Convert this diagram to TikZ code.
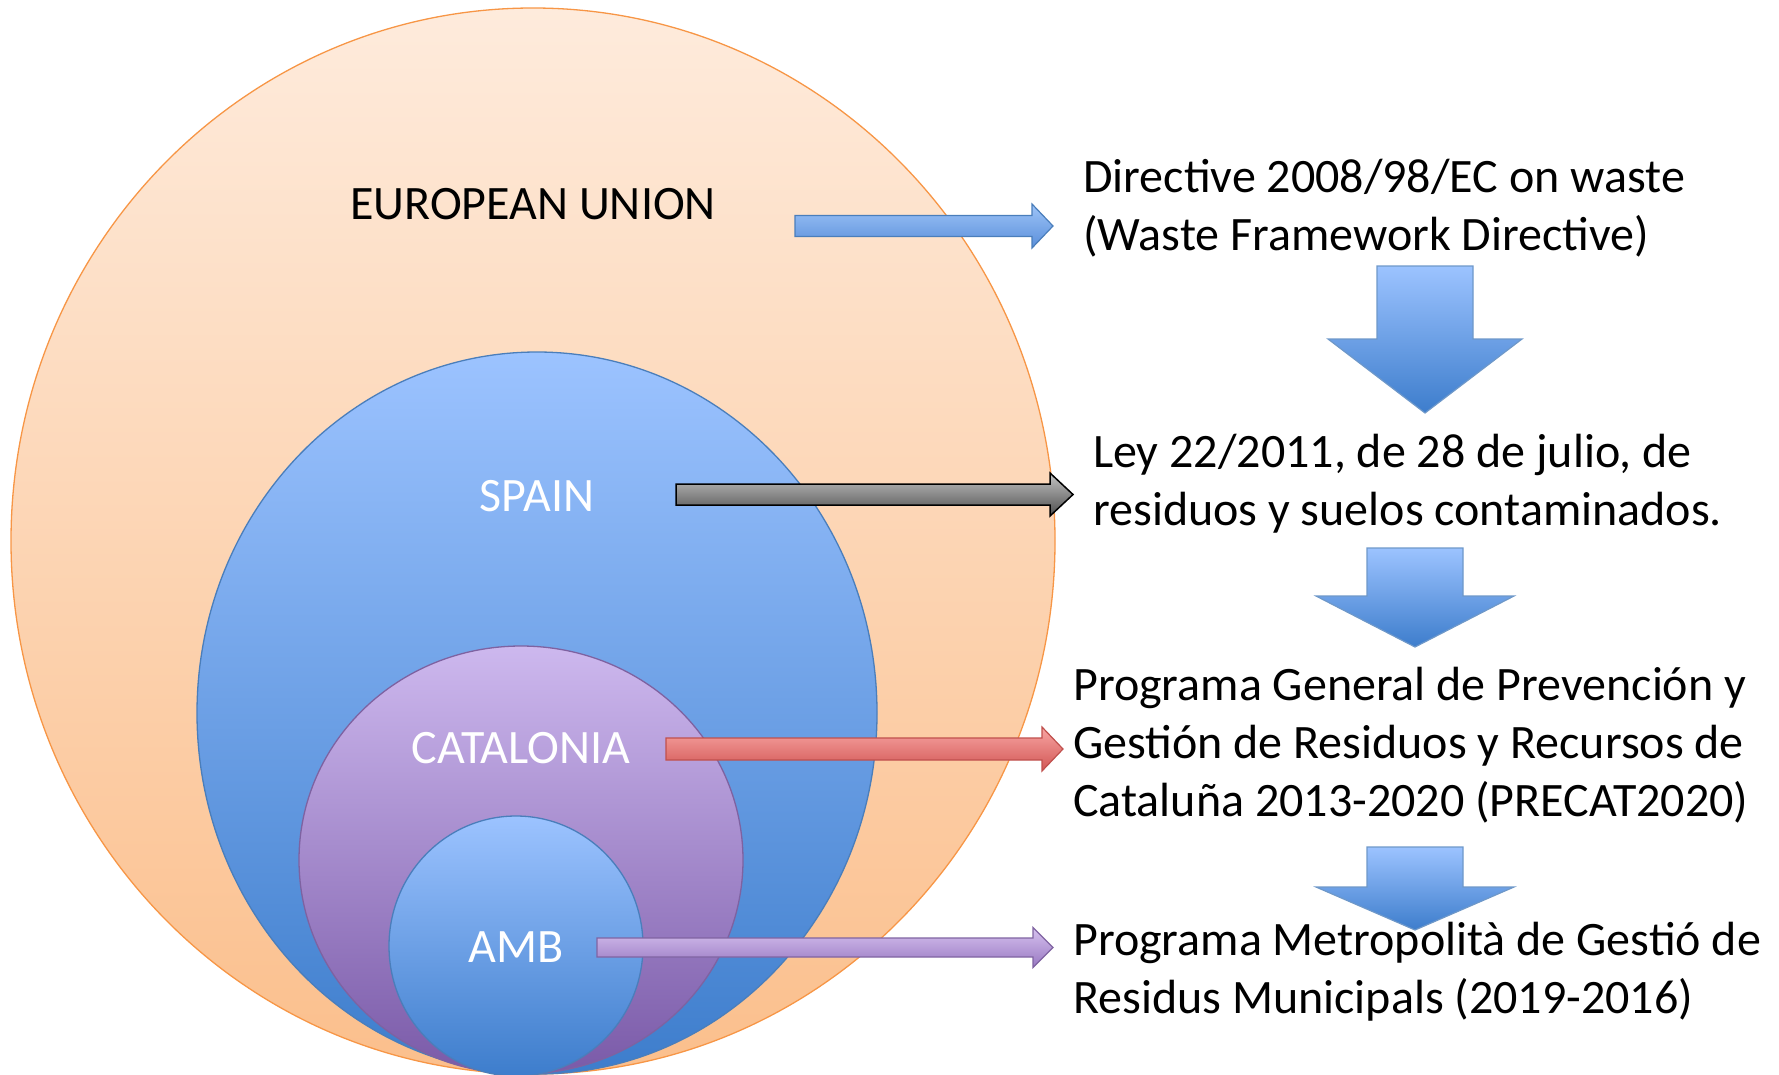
\documentclass[tikz,border=0pt]{standalone}
\usepackage{fontspec}
\setmainfont{Carlito}
\usetikzlibrary{shapes.geometric}
\definecolor{euTop}{HTML}{FEEBDC}
\definecolor{euBot}{HTML}{FBBF8C}
\definecolor{euLine}{HTML}{F79646}
\definecolor{bluTop}{HTML}{9CC3FF}
\definecolor{bluBot}{HTML}{3D7DCC}
\definecolor{bluLine}{HTML}{4A7EBB}
\definecolor{vioTop}{HTML}{CDB8EE}
\definecolor{vioBot}{HTML}{7A5AA8}
\definecolor{vioLine}{HTML}{7E62A1}
\definecolor{arBluTop}{HTML}{9EC4F8}
\definecolor{arBluBot}{HTML}{5A8FDA}
\definecolor{grTop}{HTML}{C4C4C4}
\definecolor{grBot}{HTML}{4E4E4E}
\definecolor{rdTop}{HTML}{F8A6A4}
\definecolor{rdBot}{HTML}{D25654}
\definecolor{rdLine}{HTML}{C0504D}
\definecolor{plTop}{HTML}{D7C2EF}
\definecolor{plMid}{HTML}{F5EEFC}
\definecolor{plBot}{HTML}{9878C2}
\definecolor{plLine}{HTML}{8064A2}
\newcommand{\harrowpath}[6]{% style, from coord, x end, shaft half, head half, head length
  \path[#1] let \p1=(#2) in
    (\x1,\y1+#4) -- (#3-#6,\y1+#4) -- (#3-#6,\y1+#5) -- (#3,\y1)
    -- (#3-#6,\y1-#5) -- (#3-#6,\y1-#4) -- (\x1,\y1-#4) -- cycle;}
\newcommand{\varrowpath}[7]{% style, center x, top y, shaft half, head top y, head half, tip y
  \path[#1] (#2-#4,#3) -- (#2+#4,#3) -- (#2+#4,#5) -- (#2+#6,#5) -- (#2,#7)
    -- (#2-#6,#5) -- (#2-#4,#5) -- cycle;}
\usetikzlibrary{calc}
\begin{document}
\begin{tikzpicture}[x=1pt,y=-1pt,
  ring/.style={ellipse, inner sep=0pt, line width=1.3pt},
  eustyle/.style={ring, draw=euLine, top color=euTop, bottom color=euBot},
  bluestyle/.style={ring, draw=bluLine, top color=bluTop, bottom color=bluBot},
  viostyle/.style={ring, draw=vioLine, top color=vioTop, bottom color=vioBot},
  lab/.style={font=\fontsize{48}{56}\selectfont, inner sep=0pt},
  rtext/.style={font=\fontsize{48}{58}\selectfont, align=left, inner sep=0pt, anchor=west},
  barBlue/.style={draw=bluLine, line width=1.2pt, top color=arBluTop, bottom color=arBluBot},
  barGray/.style={draw=black, line width=1.5pt, top color=grTop, bottom color=grBot},
  barRed/.style={draw=rdLine, line width=1.2pt, top color=rdTop, bottom color=rdBot},
  barViolet/.style={draw=plLine, line width=1.2pt, top color=plTop, middle color=plMid, bottom color=plBot},
  downBlue/.style={draw=bluLine!80, line width=1.2pt, top color=bluTop, bottom color=bluBot},
]
\useasboundingbox (0,0) rectangle (1779,1074);
% nested circles
\node[eustyle, minimum width=1044pt, minimum height=1066pt] (eu) at (533,541) {};
\node[bluestyle, minimum width=680pt, minimum height=722pt] (es) at (537,713) {};
\node[viostyle, minimum width=444pt, minimum height=428pt] (cat) at (521,860) {};
\node[bluestyle, minimum width=254pt, minimum height=260pt] (amb) at (516,946) {};
% labels
\node[lab, text=black] (euL) at (533,204) {EUROPEAN UNION};
\node[lab, text=white] (esL) at (537,496) {SPAIN};
\node[lab, text=white] (catL) at (521,748) {CATALONIA};
\node[lab, text=white] (ambL) at (516,947) {AMB};
% right texts
\node[rtext] (t1) at (1083,208) {Directive 2008/98/EC on waste\\(Waste Framework Directive)};
\node[rtext] (t2) at (1093,484) {Ley 22/2011, de 28 de julio, de\\residuos y suelos contaminados.};
\node[rtext] (t3) at (1073,745) {Programa General de Prevención y\\Gestión de Residuos y Recursos de\\Cataluña 2013-2020 (PRECAT2020)};
\node[rtext] (t4) at (1073,972) {Programa Metropolità de Gestió de\\Residus Municipals (2019-2016)};
% arrow start points
\coordinate (a1) at (795,226);
\coordinate (a2) at (676,494.5);
\coordinate (a3) at (666,749);
\coordinate (a4) at (597,947.5);
% horizontal arrows
\harrowpath{barBlue}{a1}{1053}{10.5}{22}{21}
\harrowpath{barGray}{a2}{1073}{10.5}{21.5}{23}
\harrowpath{barRed}{a3}{1063}{11}{22}{21}
\harrowpath{barViolet}{a4}{1053}{9.5}{20}{20}
% down arrows
\varrowpath{downBlue}{1425}{266}{48}{339}{97}{413}
\varrowpath{downBlue}{1415}{548}{48}{596}{99}{647}
\varrowpath{downBlue}{1415}{847}{48}{887}{99}{930}
\end{tikzpicture}
\end{document}
